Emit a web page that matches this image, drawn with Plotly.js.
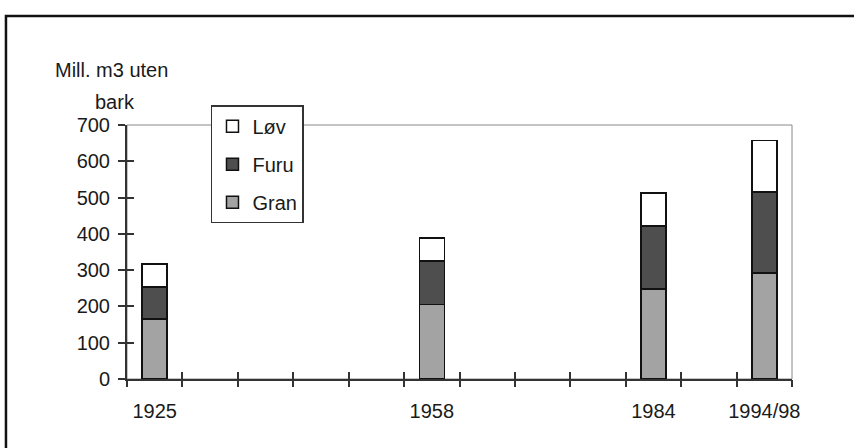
<!DOCTYPE html>
<html>
<head>
<meta charset="utf-8">
<script src="https://cdn.plot.ly/plotly-3.0.1.min.js"></script>
<style>html,body{margin:0;padding:0;background:#fff;}#chart{width:854px;height:448px;}</style>
</head>
<body>
<div id="chart"></div>
<script>
// Data
const periods = ['1925', '1958', '1984', '1994/98'];
const periodSlot = [0.5, 5.5, 9.5, 11.5];   // position on the period axis (12 slots)
const gran = [166, 205, 248, 292];
const furu = [88, 120, 174, 224];
const lov  = [63, 63, 90, 141];
const yTicks = [0, 100, 200, 300, 400, 500, 600, 700];
const slotTicks = [0,1,2,3,4,5,6,7,8,9,10,11,12];

const FONT = 'Liberation Sans, Arial, sans-serif';
const FS = 20;
const line = {color: '#111', width: 1.5};

const traces = [
  {type: 'bar', name: 'Gran', x: periodSlot, y: gran, legendgroup: 'g', legendrank: 3,
   marker: {color: '#a3a3a3', line: line}, width: 0.45},
  {type: 'bar', name: 'Furu', x: periodSlot, y: furu, legendgroup: 'f', legendrank: 2,
   marker: {color: '#4e4e4e', line: line}, width: 0.45},
  {type: 'bar', name: 'Løv', x: periodSlot, y: lov, legendgroup: 'l', legendrank: 1,
   marker: {color: '#ffffff', line: line}, width: 0.45},
  // empty helper traces so the overlay tick axes are drawn
  {type: 'scatter', x: [], y: [], xaxis: 'x2', yaxis: 'y', showlegend: false, hoverinfo: 'skip'},
  {type: 'scatter', x: [], y: [], xaxis: 'x3', yaxis: 'y', showlegend: false, hoverinfo: 'skip'},
  {type: 'scatter', x: [], y: [], xaxis: 'x', yaxis: 'y2', showlegend: false, hoverinfo: 'skip'}
];

const axisFont = {family: FONT, size: FS, color: '#1a1a1a'};

const layout = {
  width: 854, height: 448,
  margin: {l: 127, r: 62, t: 125, b: 69},
  paper_bgcolor: '#fff', plot_bgcolor: '#fff',
  barmode: 'stack',
  showlegend: true,
  font: {family: FONT, size: FS, color: '#1a1a1a'},
  legend: {
    x: 0.1263, y: 1.078, xanchor: 'left', yanchor: 'top',
    bgcolor: '#fff', bordercolor: '#333', borderwidth: 1.5,
    traceorder: 'grouped', tracegroupgap: 9, itemwidth: 30,
    font: {family: FONT, size: FS, color: '#1a1a1a'}
  },
  xaxis: {
    range: [0, 12], tickvals: periodSlot, ticktext: periods,
    ticks: '', showgrid: false, zeroline: false,
    showline: true, linecolor: '#333', linewidth: 2,
    tickfont: axisFont, ticklabelstandoff: 13, fixedrange: true
  },
  xaxis2: {
    overlaying: 'x', anchor: 'y', range: [0, 12], tickvals: slotTicks,
    ticks: 'outside', ticklen: 7, tickwidth: 2, tickcolor: '#333',
    showticklabels: false, showgrid: false, zeroline: false, showline: false
  },
  xaxis3: {
    overlaying: 'x', anchor: 'y', range: [0, 12], tickvals: slotTicks,
    ticks: 'inside', ticklen: 7, tickwidth: 2, tickcolor: '#333',
    showticklabels: false, showgrid: false, zeroline: false, showline: false
  },
  yaxis: {
    range: [0, 700], tickvals: yTicks,
    ticks: 'outside', ticklen: 7, tickwidth: 2, tickcolor: '#333',
    showgrid: false, zeroline: false,
    showline: true, linecolor: '#333', linewidth: 2,
    tickfont: axisFont, ticklabelstandoff: 4, fixedrange: true
  },
  yaxis2: {
    overlaying: 'y', anchor: 'x', range: [0, 700], tickvals: yTicks,
    ticks: 'inside', ticklen: 7, tickwidth: 2, tickcolor: '#333',
    showticklabels: false, showgrid: false, zeroline: false, showline: false
  },
  shapes: [
    {type: 'rect', xref: 'paper', yref: 'paper', x0: 0, x1: 1, y0: 0, y1: 1,
     line: {color: '#888', width: 1}, layer: 'below'},
    {type: 'rect', xref: 'paper', yref: 'paper', x0: -0.182, x1: 1.3, y0: -0.6, y1: 1.429,
     line: {color: '#111', width: 2.5}, layer: 'below'}
  ],
  annotations: [
    {xref: 'paper', yref: 'paper', x: -0.0226, y: 1.2146, xanchor: 'center', yanchor: 'middle',
     text: 'Mill. m3 uten', showarrow: false, font: {family: FONT, size: FS, color: '#1a1a1a'}},
    {xref: 'paper', yref: 'paper', x: -0.018, y: 1.0906, xanchor: 'center', yanchor: 'middle',
     text: 'bark', showarrow: false, font: {family: FONT, size: FS, color: '#1a1a1a'}}
  ]
};

Plotly.newPlot('chart', traces, layout, {displayModeBar: false, staticPlot: true});
</script>
</body>
</html>
